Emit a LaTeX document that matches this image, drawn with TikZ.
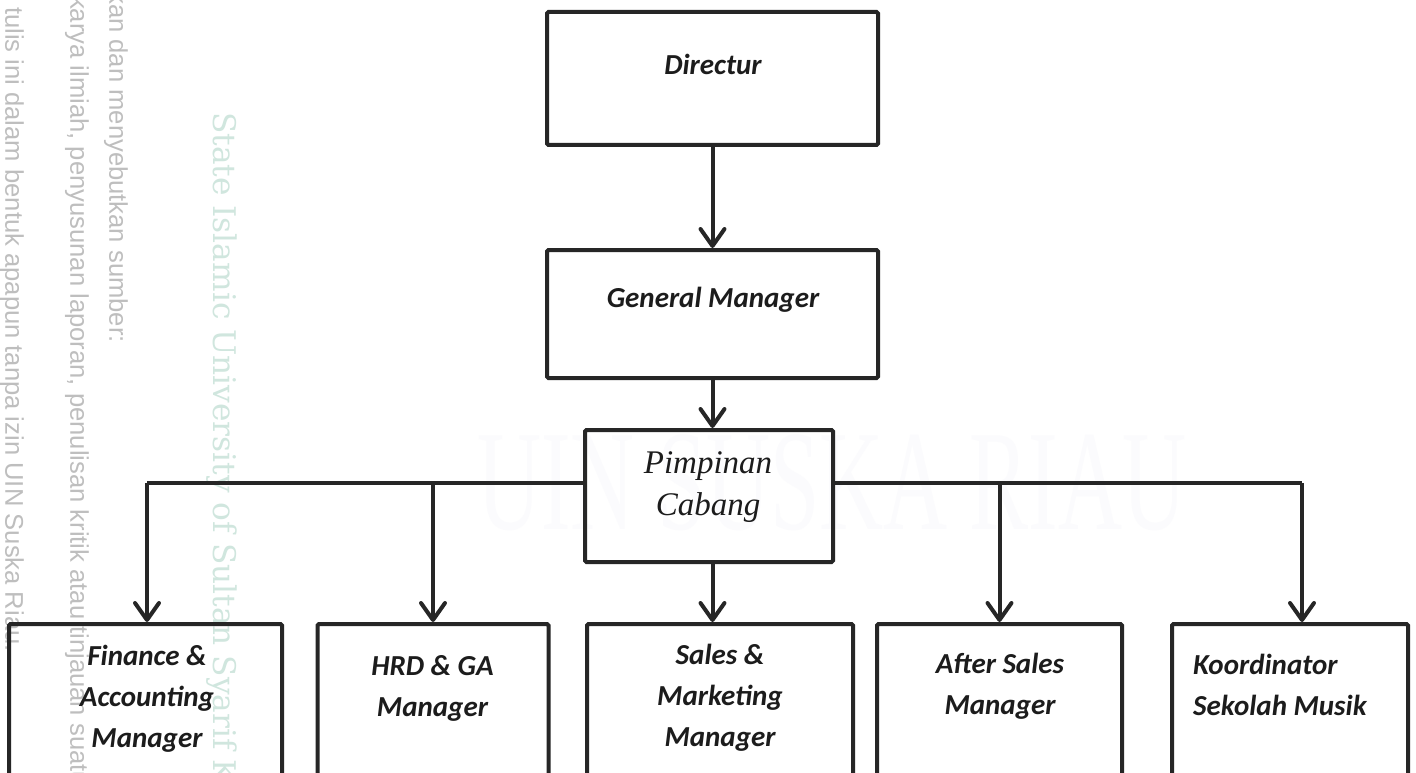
\documentclass[tikz,border=0pt]{standalone}
\usepackage{fontspec}
\usetikzlibrary{arrows.meta,calc}
\newfontfamily\calfont{Carlito}
\newfontfamily\tnrfont{Liberation Serif}
\newfontfamily\arifont{Liberation Sans}
\newfontfamily\djsfont{DejaVu Serif}
\definecolor{linec}{RGB}{38,38,38}
\definecolor{txtc}{RGB}{28,28,28}
\definecolor{wmgray}{RGB}{190,190,190}
\definecolor{wmgreen}{RGB}{208,230,222}
\definecolor{wmfaint}{RGB}{251,251,253}
\tikzset{
  orgbox/.style={draw=linec, line width=4pt, rectangle, inner sep=0pt, rounded corners=1.5pt},
  conn/.style={draw=linec, line width=4pt, -{Straight Barb[length=17pt,width=24pt,round]}},
  bus/.style={draw=linec, line width=4pt},
  lbl/.style={font=\calfont\bfseries\itshape\fontsize{29}{41}\selectfont, align=center, inner sep=0pt, text=txtc},
  tnrlbl/.style={font=\tnrfont\itshape\fontsize{33}{42}\selectfont, align=center, inner sep=0pt, text=txtc},
  wmtext/.style={font=\arifont\fontsize{25.6}{25.6}\selectfont, text=wmgray, inner sep=0pt, rotate=-90},
}
\begin{document}
\begin{tikzpicture}[x=1pt,y=-1pt]
\useasboundingbox (0,0) rectangle (1416,773);
\clip (0,0) rectangle (1416,773);
\fill[white] (0,0) rectangle (1416,773);
% watermark
\node[wmtext, anchor=west] (wm1) at (12,7) {tulis ini dalam bentuk apapun tanpa izin UIN Suska Riau.};
\node[wmtext, anchor=west] (wm2) at (77,-4) {karya ilmiah, penyusunan laporan, penulisan kritik atau tinjauan suatu};
\node[wmtext, anchor=east] (wm3) at (116,343) {kan dan menyebutkan sumber:};
\node[font=\djsfont\fontsize{31.2}{31.2}\selectfont, text=wmgreen, inner sep=0pt, rotate=-90, anchor=west] (wm4) at (222,112) {State Islamic University of Sultan Syarif K};
\node[font=\tnrfont\fontsize{143}{143}\selectfont, text=wmfaint, inner sep=0pt, xscale=0.62] (wm5) at (832,483) {UIN SUSKA RIAU};
% boxes
\node[orgbox, minimum width=331pt, minimum height=133pt] (dir) at (712.5,78.5) {};
\node[orgbox, minimum width=331pt, minimum height=128pt] (gm) at (712.5,314) {};
\node[orgbox, minimum width=248pt, minimum height=132pt] (pc) at (709,496) {};
\node[orgbox, minimum width=273pt, minimum height=220pt, anchor=north] (fin) at (145.5,622) {};
\node[orgbox, minimum width=231pt, minimum height=220pt, anchor=north] (hrd) at (433,622) {};
\node[orgbox, minimum width=266pt, minimum height=220pt, anchor=north] (sal) at (720,622) {};
\node[orgbox, minimum width=245pt, minimum height=220pt, anchor=north] (aft) at (999.5,622) {};
\node[orgbox, minimum width=236pt, minimum height=220pt, anchor=north] (koo) at (1290,622) {};
% labels
\node[lbl] (tdir) at (713,64) {Directur};
\node[lbl] (tgm) at (713,300) {General Manager};
\node[tnrlbl] (tpc) at (708,487) {Pimpinan\\Cabang};
\node[lbl] (tfin) at (147,698.5) {Finance \&\\Accounting\\Manager};
\node[lbl] (thrd) at (432.5,688) {HRD \& GA\\Manager};
\node[lbl] (tsal) at (720,698) {Sales \&\\Marketing\\Manager};
\node[lbl] (taft) at (1000,686) {After Sales\\Manager};
\node[lbl, align=left, anchor=west] (tkoo) at (1193,684.5) {Koordinator\\Sekolah Musik};
% connectors
\coordinate (busL) at (147,483);
\coordinate (busR) at (1302,483);
\draw[conn] (dir.south) -- (gm.north);
\draw[conn] (gm.south) -- (gm.south |- pc.north);
\draw[conn] (gm.south |- pc.south) -- (gm.south |- sal.north);
\draw[bus] (pc.west |- busL) -- (busL);
\draw[conn] (busL) -- (busL |- fin.north);
\draw[conn] (hrd.north |- busL) -- (hrd.north);
\draw[bus] (pc.east |- busR) -- (busR);
\draw[conn] (aft.north |- busR) -- (aft.north);
\draw[conn] (busR) -- (busR |- koo.north);
\end{tikzpicture}
\end{document}
